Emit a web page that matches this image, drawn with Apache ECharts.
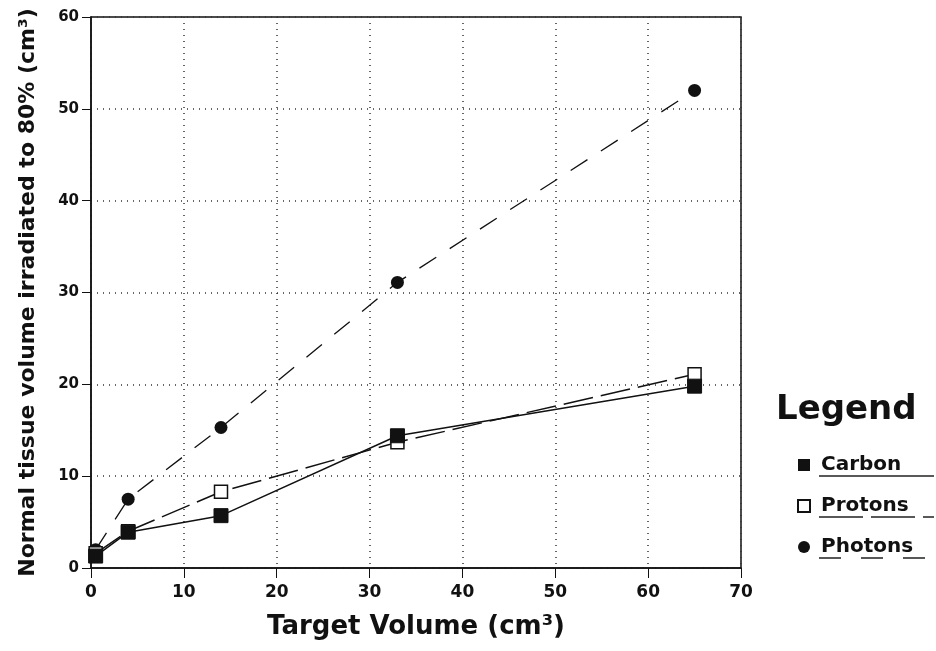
<!DOCTYPE html>
<html>
<head>
<meta charset="utf-8">
<script src="https://cdn.jsdelivr.net/npm/echarts@6/dist/echarts.min.js"></script>
<style>
  html, body { margin: 0; padding: 0; background: #fff; }
  #main { width: 936px; height: 651px; }
</style>
</head>
<body>
<div id="main"></div>
<script>
// target volume (cm3) at each measured point
var targetVol = [0.5, 4, 14, 33, 65];
// normal tissue volume irradiated to 80% (cm3)
var carbon = [1.3, 3.9, 5.7, 14.4, 19.8];
var protons = [1.6, 4.0, 8.3, 13.7, 21.1];
var photons = [2.0, 7.5, 15.3, 31.1, 52.0];
var xTicks = [0, 10, 20, 30, 40, 50, 60, 70];
var yTicks = [0, 10, 20, 30, 40, 50, 60];

var font = '"DejaVu Sans", "Liberation Sans", sans-serif';
var chart = echarts.init(document.getElementById('main'));

function pairs(ys) {
  return targetVol.map(function (x, i) { return [x, ys[i]]; });
}

var option = {
  backgroundColor: '#fff',
  animation: false,
  grid: { left: 91, right: 195, top: 17, bottom: 83, show: true, borderColor: '#111', borderWidth: 1.5 },
  xAxis: {
    type: 'value', min: xTicks[0], max: xTicks[xTicks.length - 1], interval: 10,
    name: 'Target Volume (cm³)', nameLocation: 'middle', nameGap: 46,
    nameTextStyle: { fontFamily: font, fontWeight: 'bold', fontSize: 26, color: '#111' },
    axisLine: { lineStyle: { color: '#111', width: 1.5 } },
    axisTick: { show: true, length: 10, lineStyle: { color: '#111' } },
    axisLabel: { fontFamily: font, fontWeight: 'bold', fontSize: 17, color: '#111', margin: 16 },
    splitLine: { show: true, lineStyle: { type: [1, 5], color: '#333', width: 1.5 } }
  },
  yAxis: {
    type: 'value', min: yTicks[0], max: yTicks[yTicks.length - 1], interval: 10,
    name: 'Normal tissue volume irradiated to 80% (cm³)', nameLocation: 'middle', nameGap: 52,
    nameTextStyle: { fontFamily: font, fontWeight: 'bold', fontSize: 22, color: '#111' },
    axisLine: { lineStyle: { color: '#111', width: 1.5 } },
    axisTick: { show: true, length: 9, lineStyle: { color: '#111' } },
    axisLabel: { fontFamily: font, fontWeight: 'bold', fontSize: 15, color: '#111', margin: 12 },
    splitLine: { show: true, lineStyle: { type: [1, 5], color: '#333', width: 1.5 } }
  },
  legend: {
    orient: 'vertical', left: 792, top: 450, itemGap: 21,
    itemWidth: 12, itemHeight: 12,
    textStyle: { fontFamily: font, fontWeight: 'bold', fontSize: 20, color: '#111', padding: [0, 0, 0, 6] },
    data: [
      { name: 'Carbon', icon: 'rect' },
      { name: 'Protons', icon: 'rect' },
      { name: 'Photons', icon: 'circle' }
    ]
  },
  graphic: [
    { type: 'text', left: 776, top: 393, style: { text: 'Legend', fontFamily: font, fontWeight: 'bold', fontSize: 34, fill: '#111' } },
    { type: 'line', shape: { x1: 819, y1: 476, x2: 934, y2: 476 }, style: { stroke: '#222', lineWidth: 1.5 } },
    { type: 'line', shape: { x1: 819, y1: 517, x2: 934, y2: 517 }, style: { stroke: '#222', lineWidth: 1.5, lineDash: [44, 8] } },
    { type: 'line', shape: { x1: 819, y1: 558, x2: 934, y2: 558 }, style: { stroke: '#222', lineWidth: 1.5, lineDash: [22, 20] } }
  ],
  series: [
    {
      name: 'Carbon', type: 'line', data: pairs(carbon),
      symbol: 'rect', symbolSize: 14,
      lineStyle: { color: '#111', width: 1.5 },
      itemStyle: { color: '#111', borderColor: '#111' }, z: 4
    },
    {
      name: 'Protons', type: 'line', data: pairs(protons),
      symbol: 'rect', symbolSize: 13,
      lineStyle: { color: '#111', width: 1.5, type: [30, 8] },
      itemStyle: { color: '#fff', borderColor: '#111', borderWidth: 1.5 }, z: 3
    },
    {
      name: 'Photons', type: 'line', data: pairs(photons),
      symbol: 'circle', symbolSize: 13,
      lineStyle: { color: '#111', width: 1.3, type: [20, 16] },
      itemStyle: { color: '#111' }, z: 2
    }
  ]
};
chart.setOption(option);
</script>
</body>
</html>
